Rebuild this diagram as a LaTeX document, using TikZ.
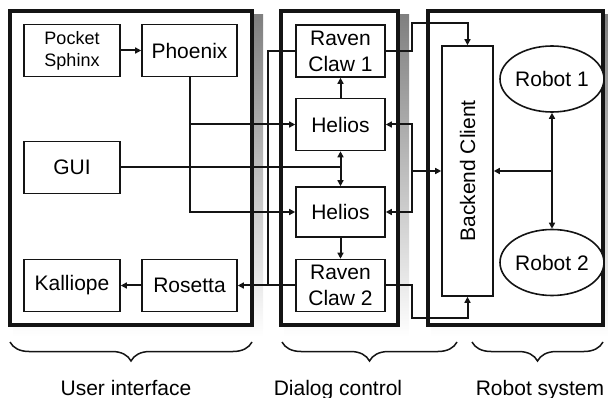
\documentclass[tikz,border=0pt]{standalone}
\usepackage{fontspec}
\usepackage{graphicx}
\setmainfont{Liberation Sans}
\usetikzlibrary{arrows.meta,positioning,calc,shapes.geometric,backgrounds,decorations.pathreplacing}
\definecolor{ink}{RGB}{20,20,20}
\definecolor{shade}{RGB}{200,200,200}

\begin{document}
\begin{tikzpicture}[
  x=1pt, y=-1pt,
  font=\fontsize{21}{26}\selectfont, >={Triangle[length=6pt,width=6pt]},
  module/.style={draw=ink, fill=white, line width=1.6pt, align=center, inner sep=1pt, minimum width=89pt, minimum height=52pt},
  robot/.style={ellipse, draw=ink, fill=white, line width=1.6pt, inner sep=0pt, minimum width=90pt, minimum height=66pt},
  frame/.style={draw=ink, fill=white, line width=4pt, inner sep=0pt, minimum height=314pt},
  flow/.style={->, line width=2pt, draw=ink},
  link/.style={line width=2pt, draw=ink},
  group/.style={decorate, decoration={brace, mirror, amplitude=19pt}, line width=1.5pt, draw=ink},
  caption/.style={anchor=base},
]
\useasboundingbox (0,0) rectangle (608,398);
% ---------------------------------------------------------------- frames
\node[frame, minimum width=242pt] (ui) at (131,168) {};
\node[frame, minimum width=117pt] (dlg) at (339.5,168) {};
\node[frame, minimum width=175pt] (rob) at (515.5,168) {};
\begin{scope}[on background layer]
  \foreach \f in {ui,dlg,rob}
    \fill[shade] ($(\f.north west)+(5,6)$) rectangle ($(\f.south east)+(9,10)$);
\end{scope}

% ---------------------------------------------------------------- nodes
\node[module, minimum width=96pt, font=\fontsize{18}{22}\selectfont] (sphinx) at (72,50.5) {Pocket\\Sphinx};
\node[module, minimum width=95pt] (phoenix) at (189.5,50.5) {Phoenix};
\node[module, minimum width=96pt] (gui) at (72,167.5) {GUI};
\node[module, minimum width=96pt] (kalliope) at (72,285.5) {Kalliope};
\node[module, minimum width=95pt] (rosetta) at (189.5,285.5) {Rosetta};

\node[module] (rc1) at (340.5,51) {Raven\\Claw 1};
\node[module] (hel1) at (340.5,124.5) {Helios};
\node[module, minimum height=50pt] (hel2) at (340.5,212) {Helios};
\node[module] (rc2) at (340.5,285.5) {Raven\\Claw 2};

\node[module, minimum width=51pt, minimum height=250pt] (backend) at (467.5,171) {\rotatebox{90}{Backend Client}};
\node[robot] (rob1) at (552,79) {Robot 1};
\node[robot] (rob2) at (552,262.5) {Robot 2};

% ---------------------------------------------------------------- edges
\draw[flow] (sphinx) -- (phoenix);
\draw[flow] (phoenix.south) |- (hel1.west);
\draw[flow] (phoenix.south) |- (hel2.west);
\coordinate (guij) at (hel1.south |- gui.east);
\draw[link] (gui.east) -- (guij);
\draw[flow, <->] (hel1) -- (hel2);
\draw[flow] (hel1) -- (rc1);
\draw[flow] (hel2) -- (rc2);
\coordinate (rosj) at ($(rosetta.east)+(30,0)$);
\draw[flow] (rc2.west) -- (rosetta.east);
\draw[link] (rc1.west) -| (rosj);
\draw[flow] (rosetta) -- (kalliope);

% backend side
\coordinate (bkj) at ($(backend.west)+(-29,0)$);
\coordinate (up1) at ($(backend.north)+(0,-22)$);
\coordinate (dn2) at ($(backend.south)+(0,21)$);
\draw[flow] (bkj) -- (backend.west);
\draw[flow] (bkj) |- (hel1.east);
\draw[flow] (bkj) |- (hel2.east);
\draw[flow] (rc1.east) -| (bkj |- up1) -| (backend.north);
\draw[flow] (rc2.east) -| (bkj |- dn2) -| (backend.south);
\coordinate (robj) at (rob1.south |- backend.east);
\draw[flow] (robj) -- (backend.east);
\draw[flow, <->] (rob1) -- (rob2);

% ---------------------------------------------------------------- groups
\draw[group] (10,342) -- (252,342);
\draw[group] (282,342) -- (457,342);
\draw[group] (472,342) -- (603,342);
\node[caption] (uilab) at (126,395) {User interface};
\node[caption] (dlglab) at (338,395) {Dialog control};
\node[caption] (roblab) at (540,395) {Robot system};
\end{tikzpicture}
\end{document}
